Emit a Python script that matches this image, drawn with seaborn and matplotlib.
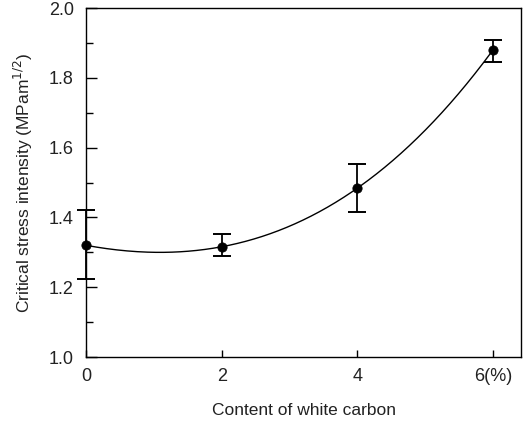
import numpy as np
import pandas as pd
import matplotlib
matplotlib.use("Agg")
import matplotlib.pyplot as plt
import seaborn as sns
from matplotlib.ticker import MultipleLocator

content = [0, 2, 4, 6]
k_mean = [1.32, 1.316, 1.484, 1.88]
k_upper = [1.42, 1.352, 1.553, 1.908]
k_lower = [1.223, 1.289, 1.415, 1.845]
x_ticklabels = ["0", "2", "4", "6(%)"]
y_ticks = [1.0, 1.2, 1.4, 1.6, 1.8, 2.0]

sns.set_style("ticks")
plt.rcParams["font.family"] = ["Liberation Sans", "DejaVu Sans"]

fig = plt.figure(figsize=(5.32, 4.22), dpi=100)
ax = fig.add_axes([0.162, 0.154, 0.817, 0.827])

# fitted smooth curve through the means
coef = np.polyfit(content, k_mean, 3)
xs = np.linspace(min(content), max(content), 200)
curve = pd.DataFrame({"x": xs, "y": np.polyval(coef, xs)})
sns.lineplot(data=curve, x="x", y="y", ax=ax, color="black", lw=1.0)

df = pd.DataFrame({"x": content, "y": k_mean})
yerr = [np.array(k_mean) - np.array(k_lower), np.array(k_upper) - np.array(k_mean)]
ax.errorbar(content, k_mean, yerr=yerr, fmt="none", ecolor="black",
            elinewidth=1.3, capsize=6.5, capthick=1.4, clip_on=False, zorder=3)
sns.scatterplot(data=df, x="x", y="y", ax=ax, color="black", s=45,
                edgecolor="black", zorder=4, clip_on=False)

ax.set_xlim(0, 6.41)
ax.set_ylim(1.0, 2.0)
ax.set_xticks(content)
ax.set_xticklabels(x_ticklabels)
ax.set_yticks(y_ticks)
ax.set_yticklabels([f"{v:.1f}" for v in y_ticks])
ax.yaxis.set_minor_locator(MultipleLocator(0.1))
ax.tick_params(axis="both", which="both", direction="in", labelsize=13,
               color="black", labelcolor="#222222", width=1.0)
ax.tick_params(axis="y", which="major", length=8, pad=9)
ax.tick_params(axis="y", which="minor", length=5)
ax.tick_params(axis="x", which="major", length=5, pad=8)
for s in ax.spines.values():
    s.set_color("black")
    s.set_linewidth(1.0)

ax.set_xlabel("Content of white carbon", fontsize=12.5, labelpad=13, color="#222222")
ax.set_ylabel("Critical stress intensity (MPam$^{1/2}$)", fontsize=12.5,
              labelpad=10, color="#222222")

fig.savefig("out.png", dpi=100)
